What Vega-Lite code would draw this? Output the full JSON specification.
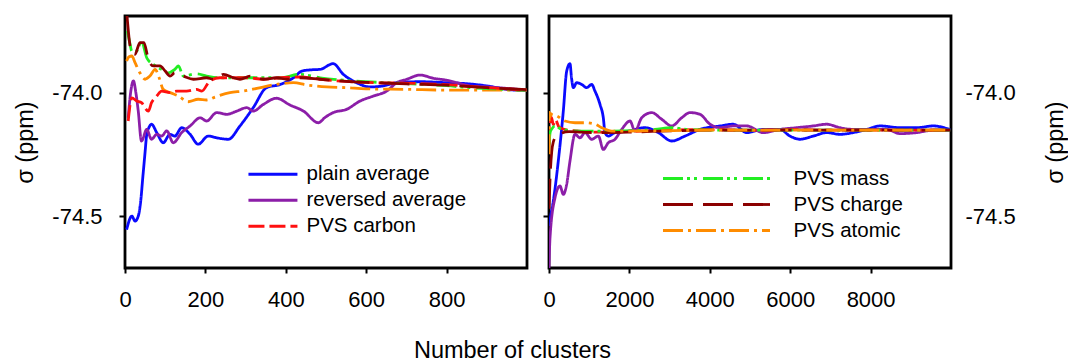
{
  "$schema": "https://vega.github.io/schema/vega-lite/v6.json",
  "padding": {"left": 12, "top": 14, "right": 0, "bottom": 0},
  "background": "white",
  "config": {
    "font": "Liberation Sans",
    "view": {"stroke": "black", "strokeWidth": 2.8},
    "axis": {"domain": false, "grid": false, "tickColor": "black", "tickWidth": 2, "tickSize": 6, "labelColor": "black", "labelFontSize": 22, "titleFontSize": 23.5, "titleFontWeight": "normal", "titleColor": "black", "labelFont": "Liberation Sans", "titleFont": "Liberation Sans"},
    "legend": {"labelFont": "Liberation Sans", "labelFontSize": 20.5, "labelColor": "black", "padding": 0}
  },
  "datasets": {
    "left": [
      {"n":4,"sigma":-74.555,"s":"plain average"},{"n":17,"sigma":-74.50,"s":"plain average"},{"n":25,"sigma":-74.52,"s":"plain average"},{"n":33,"sigma":-74.50,"s":"plain average"},{"n":39,"sigma":-74.44,"s":"plain average"},{"n":45,"sigma":-74.33,"s":"plain average"},{"n":50,"sigma":-74.24,"s":"plain average"},{"n":54,"sigma":-74.17,"s":"plain average"},{"n":60,"sigma":-74.14,"s":"plain average"},{"n":66,"sigma":-74.128,"s":"plain average"},{"n":79,"sigma":-74.162,"s":"plain average"},{"n":95,"sigma":-74.203,"s":"plain average"},{"n":112,"sigma":-74.169,"s":"plain average"},{"n":124,"sigma":-74.176,"s":"plain average"},{"n":141,"sigma":-74.142,"s":"plain average"},{"n":162,"sigma":-74.169,"s":"plain average"},{"n":182,"sigma":-74.209,"s":"plain average"},{"n":207,"sigma":-74.176,"s":"plain average"},{"n":228,"sigma":-74.183,"s":"plain average"},{"n":257,"sigma":-74.189,"s":"plain average"},{"n":286,"sigma":-74.135,"s":"plain average"},{"n":319,"sigma":-74.061,"s":"plain average"},{"n":352,"sigma":-73.98,"s":"plain average"},{"n":386,"sigma":-73.967,"s":"plain average"},{"n":419,"sigma":-73.94,"s":"plain average"},{"n":440,"sigma":-73.913,"s":"plain average"},{"n":462,"sigma":-73.908,"s":"plain average"},{"n":485,"sigma":-73.906,"s":"plain average"},{"n":518,"sigma":-73.883,"s":"plain average"},{"n":543,"sigma":-73.926,"s":"plain average"},{"n":576,"sigma":-73.96,"s":"plain average"},{"n":609,"sigma":-73.977,"s":"plain average"},{"n":642,"sigma":-73.973,"s":"plain average"},{"n":676,"sigma":-73.96,"s":"plain average"},{"n":734,"sigma":-73.956,"s":"plain average"},{"n":800,"sigma":-73.96,"s":"plain average"},{"n":858,"sigma":-73.965,"s":"plain average"},{"n":900,"sigma":-73.973,"s":"plain average"},{"n":950,"sigma":-73.987,"s":"plain average"},{"n":999,"sigma":-73.992,"s":"plain average"},
      {"n":8,"sigma":-74.102,"s":"reversed average"},{"n":14,"sigma":-74.0,"s":"reversed average"},{"n":21,"sigma":-73.953,"s":"reversed average"},{"n":27,"sigma":-74.0,"s":"reversed average"},{"n":33,"sigma":-74.075,"s":"reversed average"},{"n":41,"sigma":-74.196,"s":"reversed average"},{"n":54,"sigma":-74.149,"s":"reversed average"},{"n":66,"sigma":-74.189,"s":"reversed average"},{"n":79,"sigma":-74.169,"s":"reversed average"},{"n":91,"sigma":-74.176,"s":"reversed average"},{"n":104,"sigma":-74.155,"s":"reversed average"},{"n":120,"sigma":-74.203,"s":"reversed average"},{"n":141,"sigma":-74.162,"s":"reversed average"},{"n":162,"sigma":-74.135,"s":"reversed average"},{"n":187,"sigma":-74.102,"s":"reversed average"},{"n":203,"sigma":-74.115,"s":"reversed average"},{"n":228,"sigma":-74.081,"s":"reversed average"},{"n":253,"sigma":-74.088,"s":"reversed average"},{"n":278,"sigma":-74.075,"s":"reversed average"},{"n":303,"sigma":-74.061,"s":"reversed average"},{"n":319,"sigma":-74.075,"s":"reversed average"},{"n":344,"sigma":-74.048,"s":"reversed average"},{"n":377,"sigma":-74.023,"s":"reversed average"},{"n":410,"sigma":-74.05,"s":"reversed average"},{"n":444,"sigma":-74.075,"s":"reversed average"},{"n":481,"sigma":-74.122,"s":"reversed average"},{"n":498,"sigma":-74.1,"s":"reversed average"},{"n":518,"sigma":-74.081,"s":"reversed average"},{"n":551,"sigma":-74.068,"s":"reversed average"},{"n":585,"sigma":-74.034,"s":"reversed average"},{"n":618,"sigma":-74.014,"s":"reversed average"},{"n":651,"sigma":-73.994,"s":"reversed average"},{"n":676,"sigma":-73.96,"s":"reversed average"},{"n":701,"sigma":-73.946,"s":"reversed average"},{"n":734,"sigma":-73.929,"s":"reversed average"},{"n":767,"sigma":-73.942,"s":"reversed average"},{"n":800,"sigma":-73.95,"s":"reversed average"},{"n":826,"sigma":-73.96,"s":"reversed average"},{"n":858,"sigma":-73.973,"s":"reversed average"},{"n":900,"sigma":-73.977,"s":"reversed average"},{"n":950,"sigma":-73.983,"s":"reversed average"},{"n":999,"sigma":-73.99,"s":"reversed average"},
      {"n":4,"sigma":-73.872,"s":"PVS atomic"},{"n":10,"sigma":-73.855,"s":"PVS atomic"},{"n":17,"sigma":-73.852,"s":"PVS atomic"},{"n":25,"sigma":-73.879,"s":"PVS atomic"},{"n":37,"sigma":-73.92,"s":"PVS atomic"},{"n":50,"sigma":-73.946,"s":"PVS atomic"},{"n":62,"sigma":-73.933,"s":"PVS atomic"},{"n":75,"sigma":-73.906,"s":"PVS atomic"},{"n":85,"sigma":-73.94,"s":"PVS atomic"},{"n":95,"sigma":-73.987,"s":"PVS atomic"},{"n":112,"sigma":-74.0,"s":"PVS atomic"},{"n":133,"sigma":-74.014,"s":"PVS atomic"},{"n":157,"sigma":-74.037,"s":"PVS atomic"},{"n":182,"sigma":-74.027,"s":"PVS atomic"},{"n":203,"sigma":-74.03,"s":"PVS atomic"},{"n":224,"sigma":-74.018,"s":"PVS atomic"},{"n":261,"sigma":-74.0,"s":"PVS atomic"},{"n":294,"sigma":-73.994,"s":"PVS atomic"},{"n":328,"sigma":-73.983,"s":"PVS atomic"},{"n":369,"sigma":-73.969,"s":"PVS atomic"},{"n":419,"sigma":-73.96,"s":"PVS atomic"},{"n":452,"sigma":-73.969,"s":"PVS atomic"},{"n":502,"sigma":-73.977,"s":"PVS atomic"},{"n":550,"sigma":-73.98,"s":"PVS atomic"},{"n":600,"sigma":-73.985,"s":"PVS atomic"},{"n":700,"sigma":-73.987,"s":"PVS atomic"},{"n":800,"sigma":-73.99,"s":"PVS atomic"},{"n":900,"sigma":-73.99,"s":"PVS atomic"},{"n":999,"sigma":-73.99,"s":"PVS atomic"},
      {"n":6,"sigma":-73.751,"s":"PVS mass"},{"n":12,"sigma":-73.8,"s":"PVS mass"},{"n":17,"sigma":-73.832,"s":"PVS mass"},{"n":29,"sigma":-73.832,"s":"PVS mass"},{"n":41,"sigma":-73.791,"s":"PVS mass"},{"n":54,"sigma":-73.859,"s":"PVS mass"},{"n":70,"sigma":-73.886,"s":"PVS mass"},{"n":91,"sigma":-73.906,"s":"PVS mass"},{"n":108,"sigma":-73.92,"s":"PVS mass"},{"n":124,"sigma":-73.906,"s":"PVS mass"},{"n":133,"sigma":-73.892,"s":"PVS mass"},{"n":145,"sigma":-73.933,"s":"PVS mass"},{"n":178,"sigma":-73.924,"s":"PVS mass"},{"n":203,"sigma":-73.933,"s":"PVS mass"},{"n":236,"sigma":-73.94,"s":"PVS mass"},{"n":319,"sigma":-73.94,"s":"PVS mass"},{"n":386,"sigma":-73.94,"s":"PVS mass"},{"n":435,"sigma":-73.926,"s":"PVS mass"},{"n":485,"sigma":-73.94,"s":"PVS mass"},{"n":568,"sigma":-73.953,"s":"PVS mass"},{"n":650,"sigma":-73.96,"s":"PVS mass"},{"n":734,"sigma":-73.966,"s":"PVS mass"},{"n":800,"sigma":-73.972,"s":"PVS mass"},{"n":858,"sigma":-73.98,"s":"PVS mass"},{"n":920,"sigma":-73.985,"s":"PVS mass"},{"n":983,"sigma":-73.99,"s":"PVS mass"},{"n":999,"sigma":-73.99,"s":"PVS mass"},
      {"n":8,"sigma":-74.115,"s":"PVS carbon"},{"n":17,"sigma":-74.021,"s":"PVS carbon"},{"n":29,"sigma":-74.034,"s":"PVS carbon"},{"n":41,"sigma":-74.041,"s":"PVS carbon"},{"n":58,"sigma":-74.075,"s":"PVS carbon"},{"n":66,"sigma":-74.041,"s":"PVS carbon"},{"n":79,"sigma":-74.014,"s":"PVS carbon"},{"n":91,"sigma":-73.994,"s":"PVS carbon"},{"n":112,"sigma":-74.0,"s":"PVS carbon"},{"n":129,"sigma":-73.994,"s":"PVS carbon"},{"n":153,"sigma":-73.994,"s":"PVS carbon"},{"n":178,"sigma":-73.987,"s":"PVS carbon"},{"n":191,"sigma":-73.994,"s":"PVS carbon"},{"n":211,"sigma":-73.953,"s":"PVS carbon"},{"n":236,"sigma":-73.94,"s":"PVS carbon"},{"n":270,"sigma":-73.94,"s":"PVS carbon"},{"n":303,"sigma":-73.94,"s":"PVS carbon"},{"n":344,"sigma":-73.946,"s":"PVS carbon"},{"n":386,"sigma":-73.94,"s":"PVS carbon"},{"n":435,"sigma":-73.937,"s":"PVS carbon"},{"n":485,"sigma":-73.946,"s":"PVS carbon"},{"n":550,"sigma":-73.955,"s":"PVS carbon"},{"n":620,"sigma":-73.96,"s":"PVS carbon"},{"n":700,"sigma":-73.962,"s":"PVS carbon"},{"n":800,"sigma":-73.968,"s":"PVS carbon"},{"n":900,"sigma":-73.98,"s":"PVS carbon"},{"n":999,"sigma":-73.99,"s":"PVS carbon"},
      {"n":5,"sigma":-73.69,"s":"PVS charge"},{"n":12,"sigma":-73.805,"s":"PVS charge"},{"n":18,"sigma":-73.84,"s":"PVS charge"},{"n":25,"sigma":-73.845,"s":"PVS charge"},{"n":37,"sigma":-73.798,"s":"PVS charge"},{"n":47,"sigma":-73.798,"s":"PVS charge"},{"n":58,"sigma":-73.865,"s":"PVS charge"},{"n":70,"sigma":-73.892,"s":"PVS charge"},{"n":87,"sigma":-73.892,"s":"PVS charge"},{"n":100,"sigma":-73.913,"s":"PVS charge"},{"n":112,"sigma":-73.933,"s":"PVS charge"},{"n":124,"sigma":-73.92,"s":"PVS charge"},{"n":145,"sigma":-73.933,"s":"PVS charge"},{"n":170,"sigma":-73.946,"s":"PVS charge"},{"n":203,"sigma":-73.94,"s":"PVS charge"},{"n":220,"sigma":-73.946,"s":"PVS charge"},{"n":245,"sigma":-73.926,"s":"PVS charge"},{"n":270,"sigma":-73.94,"s":"PVS charge"},{"n":286,"sigma":-73.946,"s":"PVS charge"},{"n":311,"sigma":-73.933,"s":"PVS charge"},{"n":344,"sigma":-73.946,"s":"PVS charge"},{"n":377,"sigma":-73.94,"s":"PVS charge"},{"n":402,"sigma":-73.946,"s":"PVS charge"},{"n":435,"sigma":-73.94,"s":"PVS charge"},{"n":485,"sigma":-73.946,"s":"PVS charge"},{"n":550,"sigma":-73.955,"s":"PVS charge"},{"n":620,"sigma":-73.96,"s":"PVS charge"},{"n":700,"sigma":-73.965,"s":"PVS charge"},{"n":800,"sigma":-73.97,"s":"PVS charge"},{"n":900,"sigma":-73.98,"s":"PVS charge"},{"n":999,"sigma":-73.988,"s":"PVS charge"}
    ],
    "right": [
      {"n":0,"sigma":-74.54,"s":"plain average"},{"n":40,"sigma":-74.5,"s":"plain average"},{"n":107,"sigma":-74.439,"s":"plain average"},{"n":231,"sigma":-74.277,"s":"plain average"},{"n":356,"sigma":-74.075,"s":"plain average"},{"n":440,"sigma":-73.913,"s":"plain average"},{"n":522,"sigma":-73.883,"s":"plain average"},{"n":560,"sigma":-73.94,"s":"plain average"},{"n":605,"sigma":-73.98,"s":"plain average"},{"n":689,"sigma":-73.96,"s":"plain average"},{"n":813,"sigma":-73.967,"s":"plain average"},{"n":938,"sigma":-73.98,"s":"plain average"},{"n":1062,"sigma":-73.967,"s":"plain average"},{"n":1144,"sigma":-73.994,"s":"plain average"},{"n":1269,"sigma":-74.048,"s":"plain average"},{"n":1351,"sigma":-74.102,"s":"plain average"},{"n":1393,"sigma":-74.162,"s":"plain average"},{"n":1475,"sigma":-74.176,"s":"plain average"},{"n":1642,"sigma":-74.162,"s":"plain average"},{"n":1973,"sigma":-74.156,"s":"plain average"},{"n":2388,"sigma":-74.142,"s":"plain average"},{"n":2719,"sigma":-74.162,"s":"plain average"},{"n":3052,"sigma":-74.196,"s":"plain average"},{"n":3383,"sigma":-74.176,"s":"plain average"},{"n":3756,"sigma":-74.149,"s":"plain average"},{"n":4254,"sigma":-74.135,"s":"plain average"},{"n":4585,"sigma":-74.128,"s":"plain average"},{"n":4918,"sigma":-74.162,"s":"plain average"},{"n":5331,"sigma":-74.149,"s":"plain average"},{"n":5746,"sigma":-74.149,"s":"plain average"},{"n":5995,"sigma":-74.176,"s":"plain average"},{"n":6244,"sigma":-74.189,"s":"plain average"},{"n":6575,"sigma":-74.176,"s":"plain average"},{"n":6908,"sigma":-74.162,"s":"plain average"},{"n":7239,"sigma":-74.169,"s":"plain average"},{"n":7570,"sigma":-74.162,"s":"plain average"},{"n":7903,"sigma":-74.149,"s":"plain average"},{"n":8234,"sigma":-74.135,"s":"plain average"},{"n":8731,"sigma":-74.142,"s":"plain average"},{"n":9146,"sigma":-74.142,"s":"plain average"},{"n":9560,"sigma":-74.135,"s":"plain average"},{"n":9980,"sigma":-74.15,"s":"plain average"},
      {"n":0,"sigma":-74.71,"s":"reversed average"},{"n":25,"sigma":-74.588,"s":"reversed average"},{"n":149,"sigma":-74.426,"s":"reversed average"},{"n":274,"sigma":-74.378,"s":"reversed average"},{"n":356,"sigma":-74.412,"s":"reversed average"},{"n":440,"sigma":-74.371,"s":"reversed average"},{"n":522,"sigma":-74.277,"s":"reversed average"},{"n":647,"sigma":-74.169,"s":"reversed average"},{"n":771,"sigma":-74.183,"s":"reversed average"},{"n":896,"sigma":-74.162,"s":"reversed average"},{"n":1062,"sigma":-74.189,"s":"reversed average"},{"n":1229,"sigma":-74.176,"s":"reversed average"},{"n":1351,"sigma":-74.23,"s":"reversed average"},{"n":1475,"sigma":-74.203,"s":"reversed average"},{"n":1642,"sigma":-74.189,"s":"reversed average"},{"n":1808,"sigma":-74.149,"s":"reversed average"},{"n":2015,"sigma":-74.115,"s":"reversed average"},{"n":2139,"sigma":-74.156,"s":"reversed average"},{"n":2306,"sigma":-74.102,"s":"reversed average"},{"n":2555,"sigma":-74.081,"s":"reversed average"},{"n":2803,"sigma":-74.108,"s":"reversed average"},{"n":3052,"sigma":-74.135,"s":"reversed average"},{"n":3301,"sigma":-74.102,"s":"reversed average"},{"n":3507,"sigma":-74.081,"s":"reversed average"},{"n":3756,"sigma":-74.088,"s":"reversed average"},{"n":4005,"sigma":-74.128,"s":"reversed average"},{"n":4254,"sigma":-74.142,"s":"reversed average"},{"n":4585,"sigma":-74.135,"s":"reversed average"},{"n":4918,"sigma":-74.135,"s":"reversed average"},{"n":5331,"sigma":-74.162,"s":"reversed average"},{"n":5746,"sigma":-74.149,"s":"reversed average"},{"n":6161,"sigma":-74.142,"s":"reversed average"},{"n":6575,"sigma":-74.135,"s":"reversed average"},{"n":6908,"sigma":-74.128,"s":"reversed average"},{"n":7239,"sigma":-74.142,"s":"reversed average"},{"n":7570,"sigma":-74.149,"s":"reversed average"},{"n":8068,"sigma":-74.149,"s":"reversed average"},{"n":8400,"sigma":-74.149,"s":"reversed average"},{"n":8731,"sigma":-74.166,"s":"reversed average"},{"n":9146,"sigma":-74.162,"s":"reversed average"},{"n":9560,"sigma":-74.152,"s":"reversed average"},{"n":9980,"sigma":-74.152,"s":"reversed average"},
      {"n":0,"sigma":-74.21,"s":"PVS carbon"},{"n":25,"sigma":-74.12,"s":"PVS carbon"},{"n":60,"sigma":-74.1,"s":"PVS carbon"},{"n":110,"sigma":-74.13,"s":"PVS carbon"},{"n":160,"sigma":-74.11,"s":"PVS carbon"},{"n":250,"sigma":-74.14,"s":"PVS carbon"},{"n":400,"sigma":-74.15,"s":"PVS carbon"},{"n":700,"sigma":-74.155,"s":"PVS carbon"},{"n":1200,"sigma":-74.16,"s":"PVS carbon"},{"n":2000,"sigma":-74.158,"s":"PVS carbon"},{"n":3000,"sigma":-74.152,"s":"PVS carbon"},{"n":4000,"sigma":-74.15,"s":"PVS carbon"},{"n":5000,"sigma":-74.153,"s":"PVS carbon"},{"n":6000,"sigma":-74.15,"s":"PVS carbon"},{"n":7000,"sigma":-74.152,"s":"PVS carbon"},{"n":8000,"sigma":-74.152,"s":"PVS carbon"},{"n":9000,"sigma":-74.152,"s":"PVS carbon"},{"n":9980,"sigma":-74.152,"s":"PVS carbon"},
      {"n":0,"sigma":-74.21,"s":"PVS mass"},{"n":30,"sigma":-74.16,"s":"PVS mass"},{"n":67,"sigma":-74.148,"s":"PVS mass"},{"n":149,"sigma":-74.135,"s":"PVS mass"},{"n":315,"sigma":-74.149,"s":"PVS mass"},{"n":730,"sigma":-74.156,"s":"PVS mass"},{"n":1560,"sigma":-74.156,"s":"PVS mass"},{"n":2638,"sigma":-74.149,"s":"PVS mass"},{"n":3052,"sigma":-74.142,"s":"PVS mass"},{"n":3500,"sigma":-74.15,"s":"PVS mass"},{"n":4500,"sigma":-74.152,"s":"PVS mass"},{"n":6000,"sigma":-74.152,"s":"PVS mass"},{"n":8000,"sigma":-74.152,"s":"PVS mass"},{"n":9980,"sigma":-74.152,"s":"PVS mass"},
      {"n":0,"sigma":-74.47,"s":"PVS charge"},{"n":25,"sigma":-74.35,"s":"PVS charge"},{"n":67,"sigma":-74.24,"s":"PVS charge"},{"n":107,"sigma":-74.2,"s":"PVS charge"},{"n":190,"sigma":-74.175,"s":"PVS charge"},{"n":300,"sigma":-74.165,"s":"PVS charge"},{"n":500,"sigma":-74.158,"s":"PVS charge"},{"n":800,"sigma":-74.16,"s":"PVS charge"},{"n":1200,"sigma":-74.162,"s":"PVS charge"},{"n":2000,"sigma":-74.16,"s":"PVS charge"},{"n":3000,"sigma":-74.155,"s":"PVS charge"},{"n":4000,"sigma":-74.152,"s":"PVS charge"},{"n":6000,"sigma":-74.152,"s":"PVS charge"},{"n":8000,"sigma":-74.152,"s":"PVS charge"},{"n":9980,"sigma":-74.152,"s":"PVS charge"},
      {"n":0,"sigma":-74.25,"s":"PVS atomic"},{"n":10,"sigma":-74.08,"s":"PVS atomic"},{"n":25,"sigma":-74.1,"s":"PVS atomic"},{"n":45,"sigma":-74.085,"s":"PVS atomic"},{"n":67,"sigma":-74.088,"s":"PVS atomic"},{"n":190,"sigma":-74.094,"s":"PVS atomic"},{"n":398,"sigma":-74.115,"s":"PVS atomic"},{"n":647,"sigma":-74.122,"s":"PVS atomic"},{"n":896,"sigma":-74.122,"s":"PVS atomic"},{"n":1144,"sigma":-74.128,"s":"PVS atomic"},{"n":1310,"sigma":-74.142,"s":"PVS atomic"},{"n":1560,"sigma":-74.156,"s":"PVS atomic"},{"n":2500,"sigma":-74.155,"s":"PVS atomic"},{"n":4000,"sigma":-74.152,"s":"PVS atomic"},{"n":6000,"sigma":-74.152,"s":"PVS atomic"},{"n":8000,"sigma":-74.152,"s":"PVS atomic"},{"n":9980,"sigma":-74.152,"s":"PVS atomic"}
    ]
  },
  "spacing": 22,
  "bounds": "flush",
  "resolve": {"scale": {"color": "independent", "strokeDash": "independent"}, "legend": {"color": "independent", "strokeDash": "independent"}},
  "hconcat": [
    {
      "width": 402,
      "height": 252,
      "data": {"name": "left"},
      "mark": {"type": "line", "strokeWidth": 2.8, "clip": true, "interpolate": "monotone"},
      "encoding": {
        "x": {"field": "n", "type": "quantitative", "scale": {"domain": [0, 1000], "nice": false},
          "axis": {"values": [0, 200, 400, 600, 800], "format": "d", "title": "Number of clusters", "titleX": 387, "titleY": 89, "titleBaseline": "alphabetic", "titleAlign": "center", "labelPadding": 16, "tickSize": 5, "labelFlush": false}},
        "y": {"field": "sigma", "type": "quantitative", "scale": {"domain": [-74.71, -73.69], "nice": false, "zero": false},
          "axis": {"values": [-74.5, -74.0], "labelExpr": "replace(format(datum.value, '.1f'), '−', '-')", "title": "σ (ppm)", "titlePadding": 14, "labelPadding": 17, "tickSize": 6}},
        "color": {"field": "s", "type": "nominal",
          "scale": {"domain": ["plain average", "reversed average", "PVS carbon", "PVS mass", "PVS charge", "PVS atomic"], "range": ["#0a0aff", "#8c1ea8", "#ff1010", "#22ee22", "#8b0000", "#ff8c00"]},
          "legend": {"values": ["plain average", "reversed average", "PVS carbon"], "orient": "none", "legendX": 137.7, "legendY": 148, "title": null, "symbolType": "M-5,0H5", "symbolSize": 96, "symbolStrokeWidth": 2.8, "labelOffset": 23.3, "rowPadding": 5, "padding": 0}},
        "strokeDash": {"field": "s", "type": "nominal",
          "scale": {"domain": ["plain average", "reversed average", "PVS carbon", "PVS mass", "PVS charge", "PVS atomic"], "range": [[1, 0], [1, 0], [16, 5], [20, 4, 3, 4, 3, 6], [30, 10], [20, 5, 3, 5]]},
          "legend": {"values": ["plain average", "reversed average", "PVS carbon"], "orient": "none", "legendX": 137.7, "legendY": 148, "title": null, "symbolType": "M-5,0H5", "symbolSize": 96, "symbolStrokeWidth": 2.8, "labelOffset": 23.3, "rowPadding": 5, "padding": 0}}
      }
    },
    {
      "width": 402,
      "height": 252,
      "data": {"name": "right"},
      "encoding": {
        "x": {"field": "n", "type": "quantitative", "scale": {"domain": [0, 10000], "nice": false},
          "axis": {"values": [0, 2000, 4000, 6000, 8000], "format": "d", "title": null, "labelPadding": 16, "tickSize": 5, "labelFlush": false}},
        "color": {"field": "s", "type": "nominal",
          "scale": {"domain": ["plain average", "reversed average", "PVS carbon", "PVS mass", "PVS charge", "PVS atomic"], "range": ["#0a0aff", "#8c1ea8", "#ff1010", "#22ee22", "#8b0000", "#ff8c00"]},
          "legend": {"values": ["PVS mass", "PVS charge", "PVS atomic"], "orient": "none", "legendX": 155, "legendY": 150, "title": null, "symbolType": "M-5,0H5", "symbolSize": 458, "symbolStrokeWidth": 2.8, "labelOffset": 64.5, "rowPadding": 3, "padding": 0}},
        "strokeDash": {"field": "s", "type": "nominal",
          "scale": {"domain": ["plain average", "reversed average", "PVS carbon", "PVS mass", "PVS charge", "PVS atomic"], "range": [[1, 0], [1, 0], [16, 5], [20, 4, 3, 4, 3, 6], [30, 10], [20, 5, 3, 5]]},
          "legend": {"values": ["PVS mass", "PVS charge", "PVS atomic"], "orient": "none", "legendX": 155, "legendY": 150, "title": null, "symbolType": "M-5,0H5", "symbolSize": 458, "symbolStrokeWidth": 2.8, "labelOffset": 64.5, "rowPadding": 3, "padding": 0}}
      },
      "layer": [
        {
          "transform": [{"filter": {"field": "s", "oneOf": ["plain average", "reversed average"]}}],
          "mark": {"type": "line", "strokeWidth": 2.8, "clip": true, "interpolate": "monotone"},
          "encoding": {
            "y": {"field": "sigma", "type": "quantitative", "scale": {"domain": [-74.71, -73.69], "nice": false, "zero": false},
              "axis": {"orient": "left", "values": [-74.5, -74.0], "labels": false, "title": null, "tickSize": 6}}
          }
        },
        {
          "transform": [{"filter": {"field": "s", "oneOf": ["PVS carbon", "PVS mass", "PVS charge", "PVS atomic"]}}],
          "mark": {"type": "line", "strokeWidth": 2.8, "clip": true, "interpolate": "monotone"},
          "encoding": {
            "y": {"field": "sigma", "type": "quantitative", "scale": {"domain": [-74.71, -73.69], "nice": false, "zero": false},
              "axis": {"orient": "right", "values": [-74.5, -74.0], "labelExpr": "replace(format(datum.value, '.1f'), '−', '-')", "ticks": false, "tickSize": 0, "labelPadding": 14, "title": "σ (ppm)", "titleAngle": 270, "titleBaseline": "top", "titlePadding": 28}}
          }
        }
      ],
      "resolve": {"axis": {"y": "independent"}}
    }
  ]
}
